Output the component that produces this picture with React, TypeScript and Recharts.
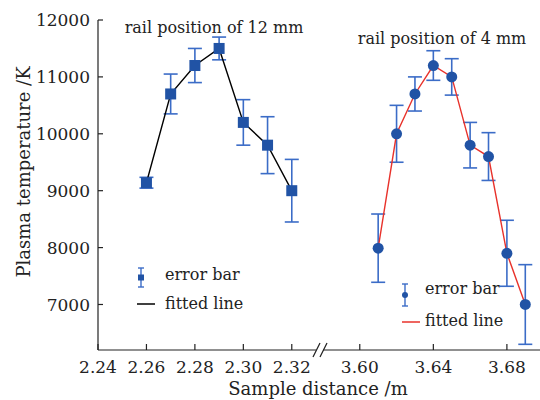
import React from "react";
import { LineChart, Line, XAxis, YAxis, ErrorBar } from "recharts";

// rail position of 12 mm
const leftDistance = [2.26, 2.27, 2.28, 2.29, 2.3, 2.31, 2.32];
const leftTemp = [9140, 10700, 11200, 11500, 10200, 9800, 9000];
const leftErr = [95, 350, 300, 200, 400, 500, 550];

// rail position of 4 mm
const rightDistance = [3.61, 3.62, 3.63, 3.64, 3.65, 3.66, 3.67, 3.68, 3.69];
const rightTemp = [7990, 10000, 10700, 11200, 11000, 9800, 9600, 7900, 7000];
const rightErr = [600, 500, 300, 260, 320, 400, 420, 580, 700];

const leftTicks = [2.24, 2.26, 2.28, 2.3, 2.32];
const rightTicks = [3.6, 3.64, 3.68];
const tempTicks = [7000, 8000, 9000, 10000, 11000, 12000];

const FONT = "'DejaVu Serif', serif";
const AXIS = "#222";
const MARKER = "#2153a5";
const ERR = "#3b6cc7";
const TEXT = "#222";

const leftData = leftDistance.map((x, i) => ({ x, t: leftTemp[i], e: leftErr[i] }));
const rightData = rightDistance.map((x, i) => ({ x, t: rightTemp[i], e: rightErr[i] }));

const tickStyle = { fill: TEXT, fontSize: 17, fontFamily: FONT };

const SquareDot = (props: any) => {
  const { cx, cy, index } = props;
  if (cx == null || cy == null) return null;
  return <rect key={`sq-${index}`} x={cx - 5.5} y={cy - 5.5} width={11} height={11} fill={MARKER} />;
};

const RoundDot = (props: any) => {
  const { cx, cy, index } = props;
  if (cx == null || cy == null) return null;
  return <circle key={`ci-${index}`} cx={cx} cy={cy} r={5.5} fill={MARKER} />;
};

function Overlay() {
  return (
    <svg width={540} height={400} style={{ position: "absolute", left: 0, top: 0, pointerEvents: "none" }}>
      <g fontFamily={FONT} fill={TEXT}>
        <text x={214} y={27} fontSize={16} textAnchor="middle" dominantBaseline="central">
          rail position of 12 mm
        </text>
        <text x={442} y={38} fontSize={16} textAnchor="middle" dominantBaseline="central">
          rail position of 4 mm
        </text>
        <text
          x={23}
          y={172}
          fontSize={18}
          textAnchor="middle"
          dominantBaseline="central"
          transform="rotate(-90 23 172)"
        >
          Plasma temperature /K
        </text>
        <text x={318} y={388} fontSize={18} textAnchor="middle" dominantBaseline="central">
          Sample distance /m
        </text>

        {/* legend, 12 mm */}
        <line x1={141} x2={141} y1={268} y2={287} stroke={ERR} strokeWidth={1.4} />
        <line x1={138} x2={144} y1={268} y2={268} stroke={ERR} strokeWidth={1.4} />
        <line x1={138} x2={144} y1={287} y2={287} stroke={ERR} strokeWidth={1.4} />
        <rect x={138} y={274.5} width={6} height={6} fill={MARKER} />
        <text x={165} y={274} fontSize={16} dominantBaseline="central">error bar</text>
        <line x1={137} x2={155} y1={304} y2={304} stroke="#000" strokeWidth={1.5} />
        <text x={165} y={303} fontSize={16} dominantBaseline="central">fitted line</text>

        {/* legend, 4 mm */}
        <line x1={405} x2={405} y1={284} y2={306} stroke={ERR} strokeWidth={1.4} />
        <line x1={402} x2={408} y1={284} y2={284} stroke={ERR} strokeWidth={1.4} />
        <line x1={402} x2={408} y1={306} y2={306} stroke={ERR} strokeWidth={1.4} />
        <circle cx={405} cy={295} r={3} fill={MARKER} />
        <text x={425} y={288} fontSize={16} dominantBaseline="central">error bar</text>
        <line x1={402} x2={420} y1={322} y2={322} stroke="#e8322b" strokeWidth={1.5} />
        <text x={425} y={320} fontSize={16} dominantBaseline="central">fitted line</text>
      </g>

      {/* axis break */}
      <line x1={313} y1={357} x2={320} y2={343} stroke={AXIS} strokeWidth={1.2} />
      <line x1={320} y1={357} x2={327} y2={343} stroke={AXIS} strokeWidth={1.2} />
    </svg>
  );
}

export default function App() {
  return (
    <div
      style={{
        position: "fixed",
        left: 0,
        top: 0,
        width: 540,
        height: 400,
        overflow: "hidden",
        background: "#fff",
      }}
    >
      <div style={{ position: "absolute", left: 0, top: 0 }}>
        <LineChart width={540} height={400} data={leftData} margin={{ top: 20, right: 224, bottom: 19, left: 0 }}>
          <XAxis
            type="number"
            dataKey="x"
            domain={[2.24, 2.33]}
            ticks={leftTicks}
            allowDataOverflow
            tickFormatter={(v: number) => v.toFixed(2)}
            height={31}
            tickSize={-6}
            tickMargin={17}
            tick={tickStyle}
            stroke={AXIS}
            strokeWidth={1.2}
          />
          <YAxis
            type="number"
            domain={[6200, 12000]}
            ticks={tempTicks}
            allowDataOverflow
            width={98}
            tickSize={-5}
            tickMargin={13}
            tick={tickStyle}
            stroke={AXIS}
            strokeWidth={1.2}
          />
          <Line
            dataKey="t"
            stroke="#000"
            strokeWidth={1.4}
            dot={SquareDot}
            activeDot={false}
            isAnimationActive={false}
          >
            <ErrorBar dataKey="e" width={7} stroke={ERR} strokeWidth={1.6} direction="y" isAnimationActive={false} />
          </Line>
        </LineChart>
      </div>
      <div style={{ position: "absolute", left: 0, top: 0 }}>
        <LineChart width={540} height={400} data={rightData} margin={{ top: 20, right: 0, bottom: 19, left: 323 }}>
          <XAxis
            type="number"
            dataKey="x"
            domain={[3.58, 3.698]}
            ticks={rightTicks}
            allowDataOverflow
            tickFormatter={(v: number) => v.toFixed(2)}
            height={31}
            tickSize={-6}
            tickMargin={17}
            tick={tickStyle}
            stroke={AXIS}
            strokeWidth={1.2}
          />
          <YAxis type="number" domain={[6200, 12000]} allowDataOverflow hide />
          <Line
            dataKey="t"
            stroke="#e8322b"
            strokeWidth={1.4}
            dot={RoundDot}
            activeDot={false}
            isAnimationActive={false}
          >
            <ErrorBar dataKey="e" width={7} stroke={ERR} strokeWidth={1.6} direction="y" isAnimationActive={false} />
          </Line>
        </LineChart>
      </div>
      <Overlay />
    </div>
  );
}
